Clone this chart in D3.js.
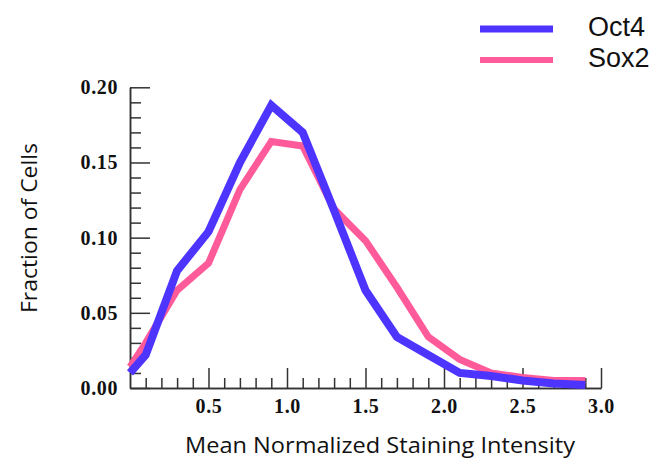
<!DOCTYPE html>
<html>
<head>
<meta charset="utf-8">
<script src="https://cdn.jsdelivr.net/npm/d3@7/dist/d3.min.js"></script>
<style>
  html, body { margin: 0; padding: 0; background: #fff; }
  svg { display: block; }
  .tick text { font-family: "Liberation Serif", "Times New Roman", serif; font-weight: bold; font-size: 20px; letter-spacing: 0.6px; fill: #111; }
  .title { font-family: "Open Sans", "Noto Sans", sans-serif; fill: #111; }
  .legend { font-family: "Liberation Sans", Arial, sans-serif; fill: #111; }
</style>
</head>
<body>
<script>
// Histogram bin centres (mean normalized staining intensity)
const intensity = [0.0, 0.1, 0.3, 0.5, 0.7, 0.9, 1.1, 1.3, 1.5, 1.7, 1.9, 2.1, 2.3, 2.5, 2.7, 2.9];
// Fraction of cells per bin
const oct4 = [0.010, 0.022, 0.078, 0.104, 0.150, 0.188, 0.170, 0.118, 0.065, 0.034, 0.022, 0.010, 0.008, 0.005, 0.003, 0.002];
const sox2 = [0.014, 0.030, 0.065, 0.083, 0.132, 0.164, 0.161, 0.119, 0.098, 0.067, 0.034, 0.019, 0.010, 0.007, 0.005, 0.005];
const seriesNames = ["Oct4", "Sox2"];
const seriesColors = ["#4d34ff", "#ff5b9b"];
const xMajorTicks = [0.5, 1.0, 1.5, 2.0, 2.5, 3.0];
const yMajorTicks = [0.00, 0.05, 0.10, 0.15, 0.20];

const W = 661, H = 464;
const svg = d3.select("body").append("svg").attr("width", W).attr("height", H);

const x = d3.scaleLinear().domain([0, 3]).range([130, 601]);
const y = d3.scaleLinear().domain([0, 0.2]).range([388, 87.3]);

const axisColor = "#333";

// minor ticks every 0.1 on x, 0.01 on y
const xMinor = d3.range(1, 30).map(i => i / 10).filter(v => Math.abs(v * 2 - Math.round(v * 2)) > 1e-6);
const yMinor = d3.range(1, 20).map(i => i / 100).filter(v => Math.abs(v * 20 - Math.round(v * 20)) > 1e-6);

svg.append("g").attr("transform", `translate(0,${y(0)})`)
  .call(d3.axisBottom(x).tickValues(xMinor).tickSizeInner(-10).tickSizeOuter(0).tickFormat(""));
svg.append("g").attr("transform", `translate(0,${y(0)})`)
  .call(d3.axisBottom(x).tickValues(xMajorTicks).tickSizeInner(-20).tickSizeOuter(0).tickPadding(11).tickFormat(d3.format(".1f")));

svg.append("g").attr("transform", `translate(${x(0)},0)`)
  .call(d3.axisLeft(y).tickValues(yMinor).tickSizeInner(-11).tickSizeOuter(0).tickFormat(""));
svg.append("g").attr("transform", `translate(${x(0)},0)`)
  .call(d3.axisLeft(y).tickValues(yMajorTicks).tickSizeInner(-20).tickSizeOuter(0).tickPadding(12).tickFormat(d3.format(".2f")));

svg.selectAll(".domain, .tick line").attr("stroke", axisColor).attr("stroke-width", 1.5);

// series lines, Oct4 drawn last so it sits on top
const line = d3.line().x(d => x(d[0])).y(d => y(d[1]));
const series = [sox2, oct4];
const colorsDrawn = [seriesColors[1], seriesColors[0]];
const widths = [7, 8];
series.forEach((vals, i) => {
  svg.append("path")
    .datum(intensity.map((v, j) => [v, vals[j]]))
    .attr("d", line)
    .attr("fill", "none")
    .attr("stroke", colorsDrawn[i])
    .attr("stroke-width", widths[i])
    .attr("stroke-linejoin", "miter")
    .attr("stroke-linecap", "butt");
});

// axis titles
svg.append("text").attr("class", "title")
  .attr("x", 380).attr("y", 453).attr("text-anchor", "middle")
  .attr("font-size", 21)
  .attr("textLength", 390).attr("lengthAdjust", "spacingAndGlyphs")
  .text("Mean Normalized Staining Intensity");

svg.append("text").attr("class", "title")
  .attr("transform", "translate(37,228) rotate(-90)").attr("text-anchor", "middle")
  .attr("font-size", 22)
  .attr("textLength", 170).attr("lengthAdjust", "spacingAndGlyphs")
  .text("Fraction of Cells");

// legend
const legendY = [29, 60];
seriesNames.forEach((name, i) => {
  svg.append("line")
    .attr("x1", 480).attr("x2", 553).attr("y1", legendY[i]).attr("y2", legendY[i])
    .attr("stroke", seriesColors[i]).attr("stroke-width", i === 0 ? 7 : 6);
  svg.append("text").attr("class", "legend")
    .attr("x", 588).attr("y", legendY[i] + 7).attr("font-size", 27)
    .text(name);
});
</script>
</body>
</html>
